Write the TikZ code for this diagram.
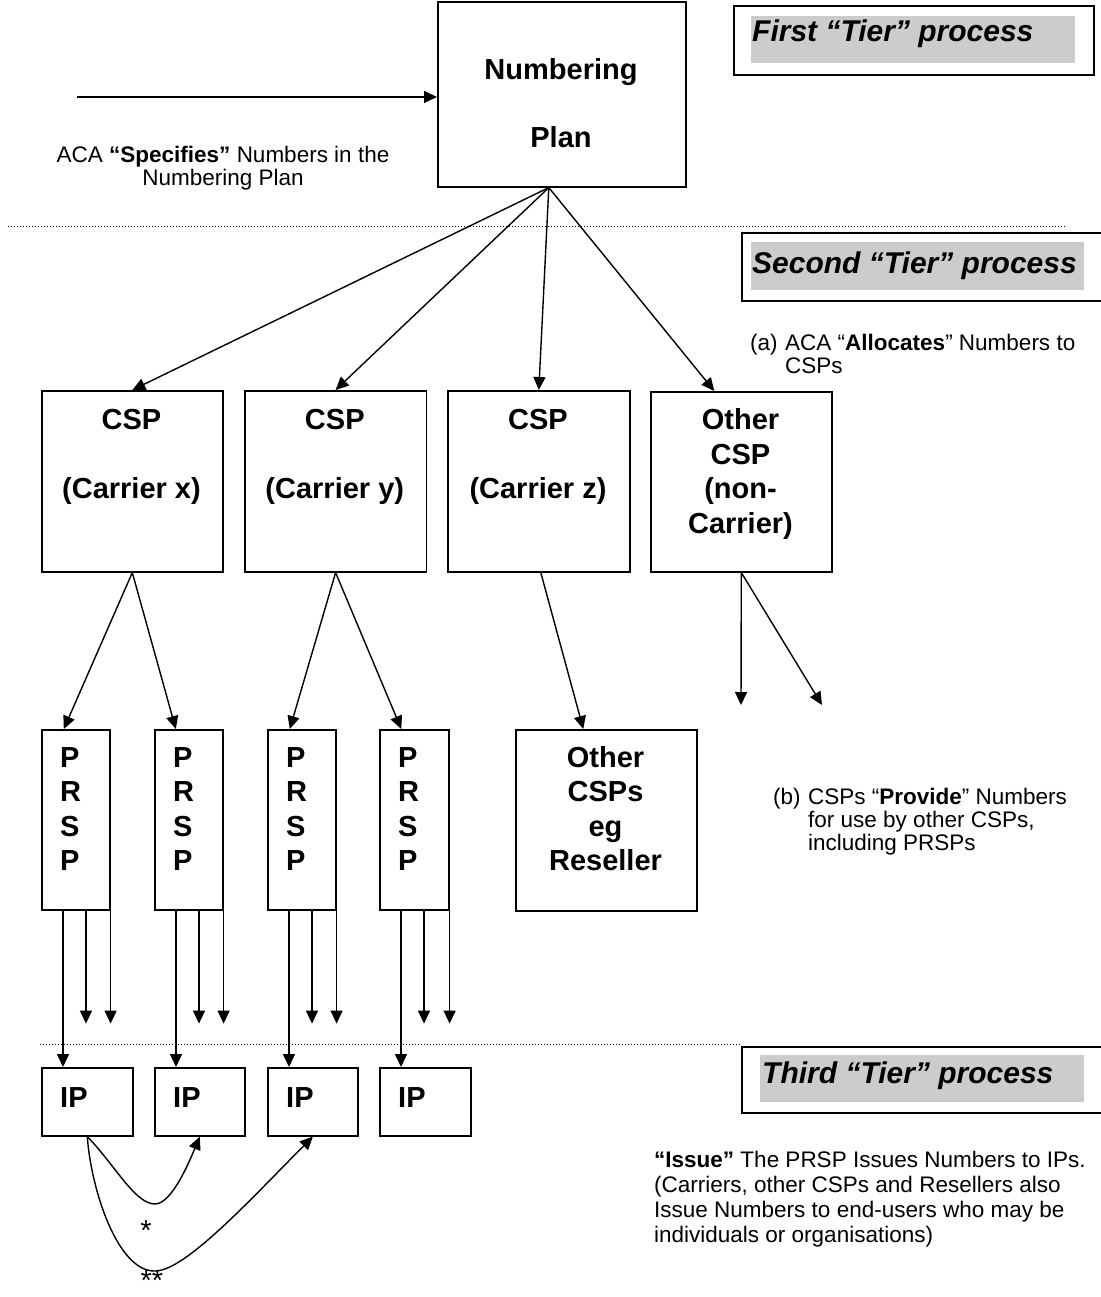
\documentclass[tikz,border=0pt]{standalone}
\usepackage{fontspec}
\setmainfont{Liberation Sans}
\usetikzlibrary{arrows.meta}
\definecolor{tiergray}{RGB}{204,204,204}
\newcommand\bxfont{\fontsize{29}{34.5}\selectfont\bfseries}
\newcommand\smfont{\fontsize{22.5}{23}\selectfont}
\newcommand\trfont{\fontsize{30}{36}\selectfont\bfseries\itshape}
\begin{document}
\begin{tikzpicture}[x=1pt,y=-1pt,
  box/.style={draw, line width=1.6pt, inner sep=0pt, anchor=north west},
  tierbox/.style={draw, line width=1.8pt, inner sep=0pt, anchor=north west},
  graybar/.style={fill=tiergray, inner sep=0pt, anchor=north west},
  txt/.style={inner sep=0pt, anchor=base},
  txtw/.style={inner sep=0pt, anchor=base west},
  arr/.style={line width=1.4pt, -{Triangle[length=13pt,width=12pt]}},
  sepline/.style={line width=0.9pt, dash pattern=on 1pt off 2pt}
]
\fill[white] (0,0) rectangle (1100,1297);
\useasboundingbox (0,0) rectangle (1100,1297);

% tier labels
\node[tierbox, minimum width=360pt, minimum height=69pt] (tier1) at (733,5) {};
\node[graybar, minimum width=324pt, minimum height=47pt] (bar1) at (751,16) {};
\node[txtw, font=\trfont] (tier1t) at (752,42) {First “Tier” process};
\node[tierbox, minimum width=360pt, minimum height=68pt] (tier2) at (741,232) {};
\node[graybar, minimum width=333pt, minimum height=48pt] (bar2) at (751,242) {};
\node[txtw, font=\trfont] (tier2t) at (752,273) {Second “Tier” process};
\node[tierbox, minimum width=360pt, minimum height=66pt] (tier3) at (741,1046) {};
\node[graybar, minimum width=324pt, minimum height=47pt] (bar3) at (760,1055) {};
\node[txtw, font=\trfont] (tier3t) at (762,1083) {Third “Tier” process};

% separators
\draw[sepline] (8,226) -- (1067,226);
\draw[sepline] (40,1044) -- (741,1044);

% boxes
\node[box, minimum width=248pt, minimum height=184.5pt] (np) at (437,1.5) {};
\node[box, minimum width=181pt, minimum height=181pt] (c1) at (41,390) {};
\node[box, minimum width=181.6pt, minimum height=181pt] (c2) at (244,390) {};
\node[box, minimum width=182pt, minimum height=181pt] (c3) at (447,390) {};
\node[box, minimum width=181pt, minimum height=180pt] (c4) at (650,391) {};
\node[box, minimum width=68pt, minimum height=180pt] (p1) at (41,729) {};
\node[box, minimum width=68pt, minimum height=180pt] (p2) at (154,729) {};
\node[box, minimum width=68pt, minimum height=180pt] (p3) at (267,729) {};
\node[box, minimum width=69pt, minimum height=180pt] (p4) at (379,729) {};
\node[box, minimum width=181pt, minimum height=181pt] (rs) at (515,729) {};
\node[box, minimum width=91pt, minimum height=68pt] (ip1) at (41,1067) {};
\node[box, minimum width=90pt, minimum height=68pt] (ip2) at (154,1067) {};
\node[box, minimum width=90pt, minimum height=68pt] (ip3) at (267,1067) {};
\node[box, minimum width=91pt, minimum height=68pt] (ip4) at (379,1067) {};

% box texts
\node[txt] (npt) at (561,80) {\parbox[t]{240pt}{\centering\bxfont Numbering\\[33pt]Plan}};
\node[txt] (c1t) at (131.5,429.5) {\parbox[t]{181pt}{\centering\bxfont CSP\\[34pt](Carrier x)}};
\node[txt] (c2t) at (334.8,429.5) {\parbox[t]{181pt}{\centering\bxfont CSP\\[34pt](Carrier y)}};
\node[txt] (c3t) at (538,429.5) {\parbox[t]{181pt}{\centering\bxfont CSP\\[34pt](Carrier z)}};
\node[txt] (c4t) at (740.5,429.5) {\parbox[t]{181pt}{\centering\bxfont Other\\CSP\\(non-\\Carrier)}};
\node[txt] (rst) at (605.5,767) {\parbox[t]{181pt}{\centering\bxfont Other\\CSPs\\eg\\Reseller}};
\node[txtw] (p1t) at (60,767) {\parbox[t]{40pt}{\bxfont P\\R\\S\\P}};
\node[txtw] (p2t) at (173,767) {\parbox[t]{40pt}{\bxfont P\\R\\S\\P}};
\node[txtw] (p3t) at (286,767) {\parbox[t]{40pt}{\bxfont P\\R\\S\\P}};
\node[txtw] (p4t) at (398,767) {\parbox[t]{40pt}{\bxfont P\\R\\S\\P}};
\node[txtw] (ip1t) at (60,1107) {\bxfont IP};
\node[txtw] (ip2t) at (173,1107) {\bxfont IP};
\node[txtw] (ip3t) at (286,1107) {\bxfont IP};
\node[txtw] (ip4t) at (398,1107) {\bxfont IP};

% side texts
\node[txt] (spec) at (223,163) {\parbox[t]{380pt}{\centering\smfont ACA \textbf{“Specifies”} Numbers in the\\Numbering Plan}};
\node[txtw] (alloc) at (750,350) {\smfont\parbox[t]{35pt}{(a)}\parbox[t]{320pt}{\raggedright ACA “\textbf{Allocates}” Numbers to\\CSPs}};
\node[txtw] (prov) at (773,804) {\smfont\parbox[t]{35pt}{(b)}\parbox[t]{300pt}{\raggedright CSPs “\textbf{Provide}” Numbers\\for use by other CSPs,\\including PRSPs}};
\node[txtw] (issue) at (654,1167) {\parbox[t]{450pt}{\raggedright\fontsize{22.5}{25}\selectfont\textbf{“Issue”} The PRSP Issues Numbers to IPs.\\(Carriers, other CSPs and Resellers also\\Issue Numbers to end-users who may be\\individuals or organisations)}};
\node[txt, font=\fontsize{29}{34}\selectfont] (star1) at (146,1240) {*};
\node[txt, font=\fontsize{29}{34}\selectfont, text depth=0pt] (star2) at (152,1290) {**};

% connectors
\coordinate (in0) at (77,97);
\draw[arr] (in0) -- (in0 -| np.west);
\coordinate (npout) at ([xshift=-13pt]np.south);
\draw[arr] (npout) -- (c1.north);
\draw[arr] (npout) -- (c2.north);
\draw[arr] (npout) -- (c3.north);
\draw[arr] (npout) -- ([xshift=-27pt]c4.north);

\draw[arr] (c1.south) -- ([xshift=-12pt]p1.north);
\draw[arr] (c1.south) -- ([xshift=-13pt]p2.north);
\draw[arr] (c2.south) -- ([xshift=-12pt]p3.north);
\draw[arr] (c2.south) -- ([xshift=-13pt]p4.north);
\draw[arr] ([xshift=2pt]c3.south) -- ([xshift=-23pt]rs.north);
\coordinate (o1) at (741,705);
\coordinate (o2) at (822,705);
\draw[arr] (c4.south) -- (o1);
\draw[arr] (c4.south) -- (o2);

\foreach \i in {1,2,3,4}{
  \draw[arr] ([xshift=22pt]p\i.south west) -- ([xshift=22pt]ip\i.north west);
  \path ([xshift=45pt]p\i.south west) ++(0,113) coordinate (ea\i);
  \path (p\i.south east) ++(0,113) coordinate (eb\i);
  \draw[arr] ([xshift=45pt]p\i.south west) -- (ea\i);
  \draw[arr] (p\i.south east) -- (eb\i);
}

\draw[arr] (ip1.south) .. controls (115,1165) and (135,1204) .. (155,1204) .. controls (172,1204) and (190,1160) .. (ip2.south);
\draw[arr] (ip1.south) .. controls (91,1190) and (118,1272) .. (155,1271) .. controls (185,1271) and (250,1200) .. (ip3.south);
\end{tikzpicture}
\end{document}
